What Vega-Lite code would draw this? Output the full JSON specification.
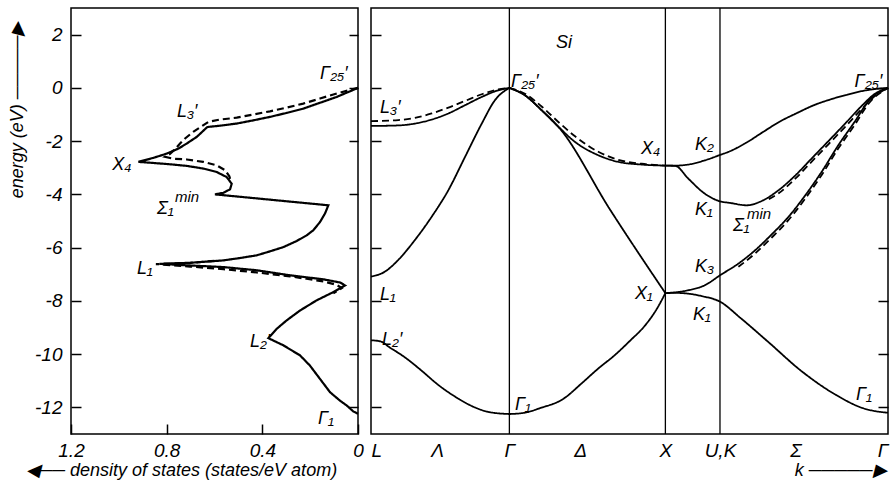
{
  "$schema": "https://vega.github.io/schema/vega-lite/v6.json",
  "padding": {"left": 7, "top": 6, "right": 0, "bottom": 0},
  "spacing": 13,
  "bounds": "flush",
  "config": {
    "view": {"stroke": "black", "strokeWidth": 1.5},
    "axis": {"grid": false, "domain": false, "labelFont": "Liberation Sans", "labelFontStyle": "italic", "labelFontSize": 19, "labelColor": "black", "tickColor": "black", "tickWidth": 1.5, "titleFont": "Liberation Sans", "titleFontStyle": "italic", "titleFontWeight": "normal", "titleFontSize": 18, "titleColor": "black"},
    "text": {"font": "Liberation Sans", "fontStyle": "italic", "fontSize": 18, "color": "black"}
  },
  "datasets": {
    "dos": [
      {"g":"D1","s":"solid","i":1,"x":0,"y":0},
      {"g":"D1","s":"solid","i":2,"x":0.089,"y":-0.34},
      {"g":"D1","s":"solid","i":3,"x":0.159,"y":-0.56},
      {"g":"D1","s":"solid","i":4,"x":0.229,"y":-0.78},
      {"g":"D1","s":"solid","i":5,"x":0.298,"y":-0.94},
      {"g":"D1","s":"solid","i":6,"x":0.368,"y":-1.09},
      {"g":"D1","s":"solid","i":7,"x":0.438,"y":-1.22},
      {"g":"D1","s":"solid","i":8,"x":0.507,"y":-1.34},
      {"g":"D1","s":"solid","i":9,"x":0.577,"y":-1.42},
      {"g":"D1","s":"solid","i":10,"x":0.63,"y":-1.47},
      {"g":"D1","s":"solid","i":11,"x":0.674,"y":-1.84},
      {"g":"D1","s":"solid","i":12,"x":0.716,"y":-2.09},
      {"g":"D1","s":"solid","i":13,"x":0.751,"y":-2.28},
      {"g":"D1","s":"solid","i":14,"x":0.8,"y":-2.47},
      {"g":"D1","s":"solid","i":15,"x":0.856,"y":-2.63},
      {"g":"D1","s":"solid","i":16,"x":0.918,"y":-2.78},
      {"g":"D1","s":"solid","i":17,"x":0.856,"y":-2.82},
      {"g":"D1","s":"solid","i":18,"x":0.786,"y":-2.87},
      {"g":"D1","s":"solid","i":19,"x":0.716,"y":-2.93},
      {"g":"D1","s":"solid","i":20,"x":0.647,"y":-3.03},
      {"g":"D1","s":"solid","i":21,"x":0.591,"y":-3.16},
      {"g":"D1","s":"solid","i":22,"x":0.549,"y":-3.35},
      {"g":"D1","s":"solid","i":23,"x":0.528,"y":-3.6},
      {"g":"D1","s":"solid","i":24,"x":0.535,"y":-3.81},
      {"g":"D1","s":"solid","i":25,"x":0.563,"y":-3.94},
      {"g":"D1","s":"solid","i":26,"x":0.598,"y":-4.0},
      {"g":"D1","s":"solid","i":27,"x":0.124,"y":-4.41},
      {"g":"D1","s":"solid","i":28,"x":0.138,"y":-4.72},
      {"g":"D1","s":"solid","i":29,"x":0.159,"y":-5.04},
      {"g":"D1","s":"solid","i":30,"x":0.187,"y":-5.35},
      {"g":"D1","s":"solid","i":31,"x":0.215,"y":-5.54},
      {"g":"D1","s":"solid","i":32,"x":0.256,"y":-5.75},
      {"g":"D1","s":"solid","i":33,"x":0.312,"y":-5.98},
      {"g":"D1","s":"solid","i":34,"x":0.368,"y":-6.14},
      {"g":"D1","s":"solid","i":35,"x":0.424,"y":-6.29},
      {"g":"D1","s":"solid","i":36,"x":0.493,"y":-6.39},
      {"g":"D1","s":"solid","i":37,"x":0.563,"y":-6.48},
      {"g":"D1","s":"solid","i":38,"x":0.702,"y":-6.57},
      {"g":"D1","s":"solid","i":39,"x":0.83,"y":-6.61},
      {"g":"D1","s":"solid","i":40,"x":0.702,"y":-6.67},
      {"g":"D1","s":"solid","i":41,"x":0.563,"y":-6.73},
      {"g":"D1","s":"solid","i":42,"x":0.424,"y":-6.85},
      {"g":"D1","s":"solid","i":43,"x":0.284,"y":-7.04},
      {"g":"D1","s":"solid","i":44,"x":0.145,"y":-7.19},
      {"g":"D1","s":"solid","i":45,"x":0.075,"y":-7.31},
      {"g":"D1","s":"solid","i":46,"x":0.054,"y":-7.42},
      {"g":"D1","s":"solid","i":47,"x":0.103,"y":-7.67},
      {"g":"D1","s":"solid","i":48,"x":0.173,"y":-7.98},
      {"g":"D1","s":"solid","i":49,"x":0.242,"y":-8.36},
      {"g":"D1","s":"solid","i":50,"x":0.298,"y":-8.73},
      {"g":"D1","s":"solid","i":51,"x":0.34,"y":-9.05},
      {"g":"D1","s":"solid","i":52,"x":0.375,"y":-9.4},
      {"g":"D1","s":"solid","i":53,"x":0.312,"y":-9.67},
      {"g":"D1","s":"solid","i":54,"x":0.242,"y":-10.05},
      {"g":"D1","s":"solid","i":55,"x":0.201,"y":-10.43},
      {"g":"D1","s":"solid","i":56,"x":0.159,"y":-10.93},
      {"g":"D1","s":"solid","i":57,"x":0.117,"y":-11.43},
      {"g":"D1","s":"solid","i":58,"x":0.075,"y":-11.75},
      {"g":"D1","s":"solid","i":59,"x":0.047,"y":-11.93},
      {"g":"D1","s":"solid","i":60,"x":0.02,"y":-12.15},
      {"g":"D1","s":"solid","i":61,"x":0,"y":-12.24},
      {"g":"D2","s":"dashed","i":1,"x":0,"y":0},
      {"g":"D2","s":"dashed","i":2,"x":0.089,"y":-0.21},
      {"g":"D2","s":"dashed","i":3,"x":0.159,"y":-0.4},
      {"g":"D2","s":"dashed","i":4,"x":0.229,"y":-0.59},
      {"g":"D2","s":"dashed","i":5,"x":0.298,"y":-0.74},
      {"g":"D2","s":"dashed","i":6,"x":0.368,"y":-0.88},
      {"g":"D2","s":"dashed","i":7,"x":0.438,"y":-1.0},
      {"g":"D2","s":"dashed","i":8,"x":0.507,"y":-1.12},
      {"g":"D2","s":"dashed","i":9,"x":0.577,"y":-1.19},
      {"g":"D2","s":"dashed","i":10,"x":0.626,"y":-1.28},
      {"g":"D2","s":"dashed","i":11,"x":0.653,"y":-1.44},
      {"g":"D2","s":"dashed","i":12,"x":0.689,"y":-1.65},
      {"g":"D2","s":"dashed","i":13,"x":0.723,"y":-1.9},
      {"g":"D2","s":"dashed","i":14,"x":0.744,"y":-2.09},
      {"g":"D2","s":"dashed","i":15,"x":0.765,"y":-2.3},
      {"g":"D2","s":"dashed","i":16,"x":0.786,"y":-2.48},
      {"g":"D2","s":"dashed","i":17,"x":0.807,"y":-2.59},
      {"g":"D2","s":"dashed","i":18,"x":0.772,"y":-2.66},
      {"g":"D2","s":"dashed","i":19,"x":0.716,"y":-2.69},
      {"g":"D2","s":"dashed","i":20,"x":0.647,"y":-2.78},
      {"g":"D2","s":"dashed","i":21,"x":0.591,"y":-2.91},
      {"g":"D2","s":"dashed","i":22,"x":0.556,"y":-3.09},
      {"g":"D2","s":"dashed","i":23,"x":0.538,"y":-3.32},
      {"g":"D2","s":"dashed","i":24,"x":0.531,"y":-3.53},
      {"g":"D3","s":"dashed","i":1,"x":0.6,"y":-6.5},
      {"g":"D3","s":"dashed","i":2,"x":0.702,"y":-6.57},
      {"g":"D3","s":"dashed","i":3,"x":0.845,"y":-6.62},
      {"g":"D3","s":"dashed","i":4,"x":0.702,"y":-6.71},
      {"g":"D3","s":"dashed","i":5,"x":0.563,"y":-6.81},
      {"g":"D3","s":"dashed","i":6,"x":0.424,"y":-6.93},
      {"g":"D3","s":"dashed","i":7,"x":0.284,"y":-7.08},
      {"g":"D3","s":"dashed","i":8,"x":0.215,"y":-7.17},
      {"g":"D3","s":"dashed","i":9,"x":0.145,"y":-7.27},
      {"g":"D3","s":"dashed","i":10,"x":0.089,"y":-7.4},
      {"g":"D3","s":"dashed","i":11,"x":0.068,"y":-7.52},
      {"g":"D3","s":"dashed","i":12,"x":0.103,"y":-7.72}
    ],
    "bands": [
      {"g":"B1a","s":"solid","x":0,"y":-9.48},
      {"g":"B1a","s":"solid","x":0.06,"y":-9.52},
      {"g":"B1a","s":"solid","x":0.12,"y":-9.75},
      {"g":"B1a","s":"solid","x":0.21,"y":-10.09},
      {"g":"B1a","s":"solid","x":0.32,"y":-10.6},
      {"g":"B1a","s":"solid","x":0.43,"y":-11.15},
      {"g":"B1a","s":"solid","x":0.54,"y":-11.6},
      {"g":"B1a","s":"solid","x":0.65,"y":-11.96},
      {"g":"B1a","s":"solid","x":0.76,"y":-12.18},
      {"g":"B1a","s":"solid","x":0.887,"y":-12.25},
      {"g":"B1b","s":"solid","x":0.887,"y":-12.25},
      {"g":"B1b","s":"solid","x":0.987,"y":-12.2},
      {"g":"B1b","s":"solid","x":1.083,"y":-12.03},
      {"g":"B1b","s":"solid","x":1.233,"y":-11.68},
      {"g":"B1b","s":"solid","x":1.346,"y":-11.12},
      {"g":"B1b","s":"solid","x":1.455,"y":-10.55},
      {"g":"B1b","s":"solid","x":1.564,"y":-10.03},
      {"g":"B1b","s":"solid","x":1.66,"y":-9.5},
      {"g":"B1b","s":"solid","x":1.76,"y":-8.9},
      {"g":"B1b","s":"solid","x":1.827,"y":-8.35},
      {"g":"B1b","s":"solid","x":1.887,"y":-7.71},
      {"g":"B1c","s":"solid","x":1.887,"y":-7.71},
      {"g":"B1c","s":"solid","x":1.95,"y":-7.7},
      {"g":"B1c","s":"solid","x":2.02,"y":-7.72},
      {"g":"B1c","s":"solid","x":2.12,"y":-7.82},
      {"g":"B1c","s":"solid","x":2.237,"y":-8.03},
      {"g":"B1c","s":"solid","x":2.37,"y":-8.65},
      {"g":"B1c","s":"solid","x":2.544,"y":-9.53},
      {"g":"B1c","s":"solid","x":2.762,"y":-10.65},
      {"g":"B1c","s":"solid","x":2.98,"y":-11.53},
      {"g":"B1c","s":"solid","x":3.154,"y":-12.03},
      {"g":"B1c","s":"solid","x":3.24,"y":-12.15},
      {"g":"B1c","s":"solid","x":3.314,"y":-12.2},
      {"g":"B2a","s":"solid","x":0,"y":-7.09},
      {"g":"B2a","s":"solid","x":0.09,"y":-6.9},
      {"g":"B2a","s":"solid","x":0.175,"y":-6.46},
      {"g":"B2a","s":"solid","x":0.282,"y":-5.71},
      {"g":"B2a","s":"solid","x":0.389,"y":-4.84},
      {"g":"B2a","s":"solid","x":0.496,"y":-3.84},
      {"g":"B2a","s":"solid","x":0.603,"y":-2.59},
      {"g":"B2a","s":"solid","x":0.71,"y":-1.34},
      {"g":"B2a","s":"solid","x":0.795,"y":-0.46},
      {"g":"B2a","s":"solid","x":0.887,"y":0},
      {"g":"B2b","s":"solid","x":0.887,"y":0},
      {"g":"B2b","s":"solid","x":0.987,"y":-0.28},
      {"g":"B2b","s":"solid","x":1.094,"y":-0.84},
      {"g":"B2b","s":"solid","x":1.201,"y":-1.46},
      {"g":"B2b","s":"solid","x":1.532,"y":-4.57},
      {"g":"B2b","s":"solid","x":1.887,"y":-7.71},
      {"g":"B2c","s":"solid","x":1.887,"y":-7.71},
      {"g":"B2c","s":"solid","x":2.034,"y":-7.6},
      {"g":"B2c","s":"solid","x":2.141,"y":-7.41},
      {"g":"B2c","s":"solid","x":2.237,"y":-7.04},
      {"g":"B2c","s":"solid","x":2.355,"y":-6.6},
      {"g":"B2c","s":"solid","x":2.462,"y":-6.1},
      {"g":"B2c","s":"solid","x":2.569,"y":-5.5},
      {"g":"B2c","s":"solid","x":2.675,"y":-4.85},
      {"g":"B2c","s":"solid","x":2.782,"y":-4.05},
      {"g":"B2c","s":"solid","x":2.889,"y":-3.15},
      {"g":"B2c","s":"solid","x":2.996,"y":-2.15},
      {"g":"B2c","s":"solid","x":3.103,"y":-1.25},
      {"g":"B2c","s":"solid","x":3.188,"y":-0.5},
      {"g":"B2c","s":"solid","x":3.314,"y":0},
      {"g":"B3a","s":"solid","x":0,"y":-1.43},
      {"g":"B3a","s":"solid","x":0.175,"y":-1.41},
      {"g":"B3a","s":"solid","x":0.282,"y":-1.34},
      {"g":"B3a","s":"solid","x":0.389,"y":-1.19},
      {"g":"B3a","s":"solid","x":0.496,"y":-0.96},
      {"g":"B3a","s":"solid","x":0.603,"y":-0.65},
      {"g":"B3a","s":"solid","x":0.71,"y":-0.34},
      {"g":"B3a","s":"solid","x":0.816,"y":-0.09},
      {"g":"B3a","s":"solid","x":0.887,"y":0},
      {"g":"B3b","s":"solid","x":0.887,"y":0},
      {"g":"B3b","s":"solid","x":0.987,"y":-0.28},
      {"g":"B3b","s":"solid","x":1.094,"y":-0.84},
      {"g":"B3b","s":"solid","x":1.201,"y":-1.46},
      {"g":"B3b","s":"solid","x":1.308,"y":-2.03},
      {"g":"B3b","s":"solid","x":1.457,"y":-2.53},
      {"g":"B3b","s":"solid","x":1.585,"y":-2.78},
      {"g":"B3b","s":"solid","x":1.735,"y":-2.88},
      {"g":"B3b","s":"solid","x":1.887,"y":-2.92},
      {"g":"B3c","s":"solid","x":1.887,"y":-2.92},
      {"g":"B3c","s":"solid","x":1.95,"y":-2.93},
      {"g":"B3c","s":"solid","x":2.034,"y":-3.41},
      {"g":"B3c","s":"solid","x":2.141,"y":-3.98},
      {"g":"B3c","s":"solid","x":2.237,"y":-4.26},
      {"g":"B3c","s":"solid","x":2.301,"y":-4.32},
      {"g":"B3c","s":"solid","x":2.408,"y":-4.41},
      {"g":"B3c","s":"solid","x":2.504,"y":-4.25},
      {"g":"B3c","s":"solid","x":2.611,"y":-3.85},
      {"g":"B3c","s":"solid","x":2.718,"y":-3.3},
      {"g":"B3c","s":"solid","x":2.825,"y":-2.65},
      {"g":"B3c","s":"solid","x":2.932,"y":-2.0},
      {"g":"B3c","s":"solid","x":3.038,"y":-1.35},
      {"g":"B3c","s":"solid","x":3.145,"y":-0.68},
      {"g":"B3c","s":"solid","x":3.231,"y":-0.22},
      {"g":"B3c","s":"solid","x":3.314,"y":0},
      {"g":"B4","s":"solid","x":1.887,"y":-2.92},
      {"g":"B4","s":"solid","x":1.95,"y":-2.92},
      {"g":"B4","s":"solid","x":2.034,"y":-2.88},
      {"g":"B4","s":"solid","x":2.141,"y":-2.72},
      {"g":"B4","s":"solid","x":2.237,"y":-2.52},
      {"g":"B4","s":"solid","x":2.301,"y":-2.38},
      {"g":"B4","s":"solid","x":2.408,"y":-2.05},
      {"g":"B4","s":"solid","x":2.515,"y":-1.65},
      {"g":"B4","s":"solid","x":2.622,"y":-1.26},
      {"g":"B4","s":"solid","x":2.729,"y":-0.95},
      {"g":"B4","s":"solid","x":2.835,"y":-0.66},
      {"g":"B4","s":"solid","x":2.942,"y":-0.44},
      {"g":"B4","s":"solid","x":3.049,"y":-0.26},
      {"g":"B4","s":"solid","x":3.156,"y":-0.11},
      {"g":"B4","s":"solid","x":3.314,"y":0},
      {"g":"C1","s":"dashed","x":0,"y":-1.25},
      {"g":"C1","s":"dashed","x":0.175,"y":-1.21},
      {"g":"C1","s":"dashed","x":0.282,"y":-1.13},
      {"g":"C1","s":"dashed","x":0.389,"y":-0.96},
      {"g":"C1","s":"dashed","x":0.496,"y":-0.74},
      {"g":"C1","s":"dashed","x":0.603,"y":-0.49},
      {"g":"C1","s":"dashed","x":0.71,"y":-0.24},
      {"g":"C1","s":"dashed","x":0.816,"y":-0.06},
      {"g":"C1","s":"dashed","x":0.887,"y":0},
      {"g":"C2","s":"dashed","x":0.887,"y":0},
      {"g":"C2","s":"dashed","x":0.987,"y":-0.22},
      {"g":"C2","s":"dashed","x":1.094,"y":-0.7},
      {"g":"C2","s":"dashed","x":1.201,"y":-1.28},
      {"g":"C2","s":"dashed","x":1.308,"y":-1.82},
      {"g":"C2","s":"dashed","x":1.457,"y":-2.4},
      {"g":"C2","s":"dashed","x":1.585,"y":-2.7},
      {"g":"C2","s":"dashed","x":1.735,"y":-2.85},
      {"g":"C2","s":"dashed","x":1.887,"y":-2.92},
      {"g":"C3","s":"dashed","x":2.55,"y":-4.18},
      {"g":"C3","s":"dashed","x":2.611,"y":-3.97},
      {"g":"C3","s":"dashed","x":2.718,"y":-3.42},
      {"g":"C3","s":"dashed","x":2.825,"y":-2.77},
      {"g":"C3","s":"dashed","x":2.932,"y":-2.12},
      {"g":"C3","s":"dashed","x":3.038,"y":-1.47},
      {"g":"C3","s":"dashed","x":3.145,"y":-0.8},
      {"g":"C3","s":"dashed","x":3.231,"y":-0.3},
      {"g":"C3","s":"dashed","x":3.314,"y":0},
      {"g":"C4","s":"dashed","x":2.355,"y":-6.72},
      {"g":"C4","s":"dashed","x":2.462,"y":-6.22},
      {"g":"C4","s":"dashed","x":2.569,"y":-5.62},
      {"g":"C4","s":"dashed","x":2.675,"y":-4.97},
      {"g":"C4","s":"dashed","x":2.782,"y":-4.17},
      {"g":"C4","s":"dashed","x":2.889,"y":-3.27},
      {"g":"C4","s":"dashed","x":2.996,"y":-2.27},
      {"g":"C4","s":"dashed","x":3.103,"y":-1.37},
      {"g":"C4","s":"dashed","x":3.188,"y":-0.6},
      {"g":"C4","s":"dashed","x":3.314,"y":0}
    ],
    "labL": [
      {"t":"Γ₂₅′","x":0.159,"y":0.53},
      {"t":"L₃′","x":0.757,"y":-0.9},
      {"t":"X₄","x":1.028,"y":-2.9},
      {"t":"Σ₁","x":0.84,"y":-4.55},
      {"t":"L₁","x":0.924,"y":-6.8},
      {"t":"L₂′","x":0.452,"y":-9.55},
      {"t":"Γ₁","x":0.167,"y":-12.44}
    ],
    "labR": [
      {"t":"Si","x":1.186,"y":1.69},
      {"t":"L₃′","x":0.058,"y":-0.75},
      {"t":"Γ₂₅′","x":0.897,"y":0.23},
      {"t":"X₄","x":1.731,"y":-2.29},
      {"t":"X₁","x":1.692,"y":-7.74},
      {"t":"L₁","x":0.058,"y":-7.78},
      {"t":"L₂′","x":0.071,"y":-9.47},
      {"t":"Γ₁","x":0.923,"y":-11.92},
      {"t":"K₂","x":2.077,"y":-2.14},
      {"t":"K₁","x":2.077,"y":-4.59},
      {"t":"Σ₁","x":2.32,"y":-5.17},
      {"t":"K₃","x":2.077,"y":-6.73},
      {"t":"K₁","x":2.064,"y":-8.53},
      {"t":"Γ₁","x":3.109,"y":-11.54},
      {"t":"Γ₂₅′","x":3.1,"y":0.23}
    ],
    "sup": [
      {"p":"L","t":"min","x":0.765,"y":-4.1},
      {"p":"R","t":"min","x":2.41,"y":-4.75}
    ],
    "sym": [{"x":0.887},{"x":1.887},{"x":2.237}]
  },
  "resolve": {"scale": {"x": "independent", "y": "independent", "strokeDash": "independent"}},
  "hconcat": [
    {
      "width": 287,
      "height": 426,
      "layer": [
        {
          "data": {"name": "dos"},
          "mark": {"type": "line", "color": "black", "strokeWidth": 2.2, "interpolate": "linear"},
          "encoding": {
            "x": {"field": "x", "type": "quantitative",
              "scale": {"domain": [0, 1.2], "reverse": true, "nice": false, "zero": false},
              "axis": {"values": [1.2, 0.8, 0.4, 0], "tickSize": -10, "labelPadding": 17, "labelFlush": false, "labelOverlap": false,
                "labelExpr": "datum.value == 0 ? '0' : format(datum.value, '.1f')",
                "title": "◀── density of states (states/eV atom)", "titleX": -46, "titleY": 36, "titleAlign": "left", "titleBaseline": "middle"}},
            "y": {"field": "y", "type": "quantitative",
              "scale": {"domain": [-13, 3], "nice": false, "zero": false},
              "axis": {"values": [-12, -10, -8, -6, -4, -2, 0, 2], "tickSize": -10, "labelPadding": 19, "labelOverlap": false,
                "labelExpr": "datum.value < 0 ? '-' + abs(datum.value) : '' + datum.value",
                "title": "energy (eV) ─────▶", "titleAngle": -90, "titleX": -54, "titleY": 13, "titleAlign": "right", "titleBaseline": "middle"}},
            "detail": {"field": "g"},
            "order": {"field": "i", "type": "quantitative"},
            "strokeDash": {"field": "s", "type": "nominal", "scale": {"domain": ["solid", "dashed"], "range": [[1, 0], [7, 4]]}, "legend": null}
          }
        },
        {
          "data": {"name": "labL"},
          "mark": {"type": "text", "align": "left", "baseline": "middle"},
          "encoding": {
            "x": {"field": "x", "type": "quantitative"},
            "y": {"field": "y", "type": "quantitative",
              "axis": {"orient": "right", "values": [-12, -10, -8, -6, -4, -2, 0, 2], "labels": false, "tickSize": -9, "title": null}},
            "text": {"field": "t"}
          }
        },
        {
          "data": {"name": "sup"},
          "transform": [{"filter": "datum.p == 'L'"}],
          "mark": {"type": "text", "align": "left", "baseline": "middle", "fontSize": 15},
          "encoding": {
            "x": {"field": "x", "type": "quantitative"},
            "y": {"field": "y", "type": "quantitative", "axis": null},
            "text": {"field": "t"}
          }
        }
      ],
      "resolve": {"axis": {"y": "independent"}}
    },
    {
      "width": 517,
      "height": 426,
      "layer": [
        {
          "data": {"name": "sym"},
          "mark": {"type": "rule", "color": "black", "strokeWidth": 1.3},
          "encoding": {
            "x": {"field": "x", "type": "quantitative",
              "scale": {"domain": [0, 3.314], "nice": false, "zero": false},
              "axis": {"values": [0, 0.423, 0.887, 1.34, 1.887, 2.237, 2.72, 3.314], "ticks": false, "labelPadding": 7, "labelFlush": true, "labelOverlap": false,
                "labelExpr": "datum.value < 0.2 ? 'L' : datum.value < 0.6 ? 'Λ' : datum.value < 1.0 ? 'Γ' : datum.value < 1.6 ? 'Δ' : datum.value < 2.0 ? 'X' : datum.value < 2.5 ? 'U,K' : datum.value < 3.0 ? 'Σ' : 'Γ'",
                "title": "k ─────▶", "titleX": 515, "titleY": 36, "titleAlign": "right", "titleBaseline": "middle"}}
          }
        },
        {
          "data": {"name": "bands"},
          "mark": {"type": "line", "color": "black", "strokeWidth": 1.8, "interpolate": "monotone"},
          "encoding": {
            "x": {"field": "x", "type": "quantitative"},
            "y": {"field": "y", "type": "quantitative",
              "scale": {"domain": [-13, 3], "nice": false, "zero": false},
              "axis": {"values": [-12, -10, -8, -6, -4, -2, 0, 2], "labels": false, "tickSize": -10, "title": null}},
            "detail": {"field": "g"},
            "strokeDash": {"field": "s", "type": "nominal", "scale": {"domain": ["solid", "dashed"], "range": [[1, 0], [7, 4]]}, "legend": null}
          }
        },
        {
          "data": {"name": "labR"},
          "mark": {"type": "text", "align": "left", "baseline": "middle"},
          "encoding": {
            "x": {"field": "x", "type": "quantitative"},
            "y": {"field": "y", "type": "quantitative",
              "axis": {"orient": "right", "values": [-12, -10, -8, -6, -4, -2, 0, 2], "labels": false, "tickSize": -10, "title": null}},
            "text": {"field": "t"}
          }
        },
        {
          "data": {"name": "sup"},
          "transform": [{"filter": "datum.p == 'R'"}],
          "mark": {"type": "text", "align": "left", "baseline": "middle", "fontSize": 15},
          "encoding": {
            "x": {"field": "x", "type": "quantitative"},
            "y": {"field": "y", "type": "quantitative", "axis": null},
            "text": {"field": "t"}
          }
        }
      ],
      "resolve": {"axis": {"y": "independent"}}
    }
  ]
}
